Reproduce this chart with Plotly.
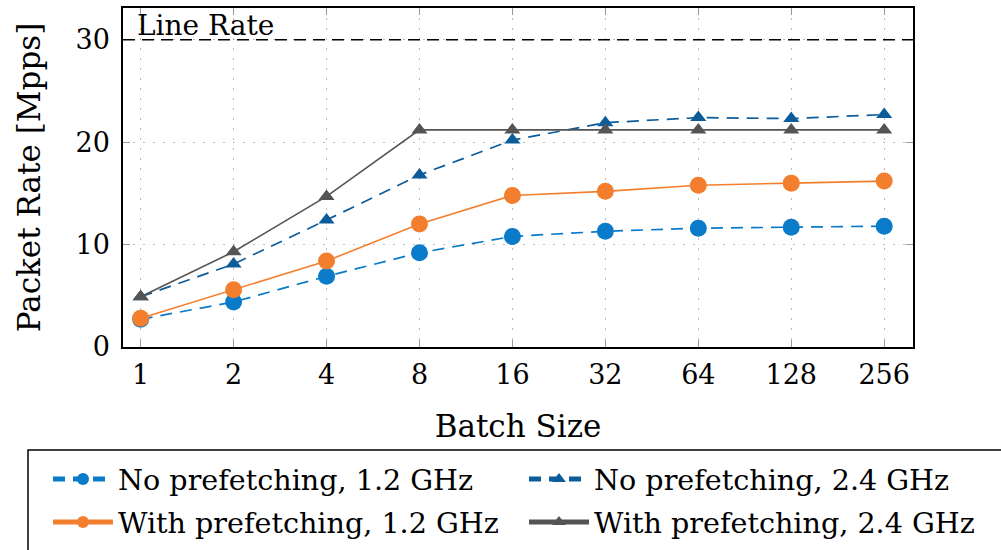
import plotly.graph_objects as go

batch_sizes = ["1", "2", "4", "8", "16", "32", "64", "128", "256"]
no_pref_12 = [2.7, 4.4, 6.9, 9.2, 10.8, 11.3, 11.6, 11.7, 11.8]
with_pref_12 = [2.8, 5.6, 8.4, 12.0, 14.8, 15.2, 15.8, 16.0, 16.2]
no_pref_24 = [4.9, 8.1, 12.4, 16.8, 20.2, 21.9, 22.4, 22.3, 22.7]
with_pref_24 = [4.9, 9.3, 14.7, 21.2, 21.2, 21.2, 21.2, 21.2, 21.2]
line_rate = 30
y_ticks = [0, 10, 20, 30]

FONT = "DejaVu Serif"
BLUE = "#0a7bc9"
DBLUE = "#0d5c9a"
ORANGE = "#f37f2e"
GRAY = "#545454"

# plot area in pixels
L, R, T, B = 123, 913, 8, 347
W, H = R - L, B - T


def px_x(p):
    return (p - L) / W


def px_y(p):
    return (B - p) / H


fig = go.Figure()
fig.add_trace(go.Scatter(
    x=batch_sizes, y=no_pref_12, name="No prefetching, 1.2 GHz", mode="lines+markers",
    line=dict(color=BLUE, width=1.7, dash="12px,8px"),
    marker=dict(symbol="circle", size=17, color=BLUE), legend="legend"))
fig.add_trace(go.Scatter(
    x=batch_sizes, y=no_pref_24, name="No prefetching, 2.4 GHz", mode="lines+markers",
    line=dict(color=DBLUE, width=1.7, dash="12px,8px"),
    marker=dict(symbol="triangle-up", size=14, color=DBLUE), legend="legend2"))
fig.add_trace(go.Scatter(
    x=batch_sizes, y=with_pref_12, name="With prefetching, 1.2 GHz", mode="lines+markers",
    line=dict(color=ORANGE, width=1.6),
    marker=dict(symbol="circle", size=17, color=ORANGE), legend="legend3"))
fig.add_trace(go.Scatter(
    x=batch_sizes, y=with_pref_24, name="With prefetching, 2.4 GHz", mode="lines+markers",
    line=dict(color=GRAY, width=1.6),
    marker=dict(symbol="triangle-up", size=14, color=GRAY), legend="legend4"))

fig.add_shape(type="line", xref="paper", x0=0, x1=1, yref="y", y0=line_rate, y1=line_rate,
              line=dict(color="black", width=1.4, dash="12px,7px"), layer="above")
fig.add_annotation(text="Line Rate", xref="paper", x=px_x(135), xanchor="left",
                   yref="y", y=line_rate, yanchor="middle", yshift=14, showarrow=False,
                   font=dict(family=FONT, size=28, color="black"))

# legend frame
fig.add_shape(type="rect", xref="paper", yref="paper",
              x0=px_x(28), x1=px_x(1020), y0=px_y(450), y1=px_y(570),
              line=dict(color="black", width=1.5), fillcolor="rgba(0,0,0,0)")


def leg(px, py):
    return dict(x=px_x(px), xanchor="left", y=px_y(py), yanchor="top",
                xref="paper", yref="paper", orientation="v",
                bgcolor="rgba(0,0,0,0)", borderwidth=0,
                font=dict(family=FONT, size=28.6, color="black"),
                itemwidth=60, itemsizing="constant")


fig.update_layout(
    width=1001, height=550,
    margin=dict(l=L, r=1001 - R, t=T, b=550 - B, autoexpand=False),
    paper_bgcolor="white", plot_bgcolor="white",
    font=dict(family=FONT, size=28, color="black"),
    showlegend=True,
    legend=leg(48, 454),
    legend2=leg(524, 454),
    legend3=leg(48, 497),
    legend4=leg(524, 497),
)
fig.update_xaxes(
    type="category", range=[-0.19, 8.31], categoryorder="array", categoryarray=batch_sizes,
    showline=True, linecolor="black", linewidth=1.5, mirror="ticks",
    ticks="inside", ticklen=7, tickcolor="#999999", tickwidth=1,
    showgrid=True, gridcolor="#bbbbbb", griddash="2px,8px", gridwidth=1,
    ticklabelstandoff=3,
    title=dict(text="Batch Size", font=dict(family=FONT, size=31), standoff=26),
    tickfont=dict(family=FONT, size=27), zeroline=False)
fig.update_yaxes(
    range=[0, 33.1], tickvals=y_ticks,
    showline=True, linecolor="black", linewidth=1.5, mirror="ticks",
    ticks="inside", ticklen=7, tickcolor="#999999", tickwidth=1,
    showgrid=True, gridcolor="#bbbbbb", griddash="2px,8px", gridwidth=1,
    ticklabelstandoff=6,
    title=dict(text="Packet Rate [Mpps]", font=dict(family=FONT, size=31), standoff=26),
    tickfont=dict(family=FONT, size=27), zeroline=False)

fig.write_html("out.html")
